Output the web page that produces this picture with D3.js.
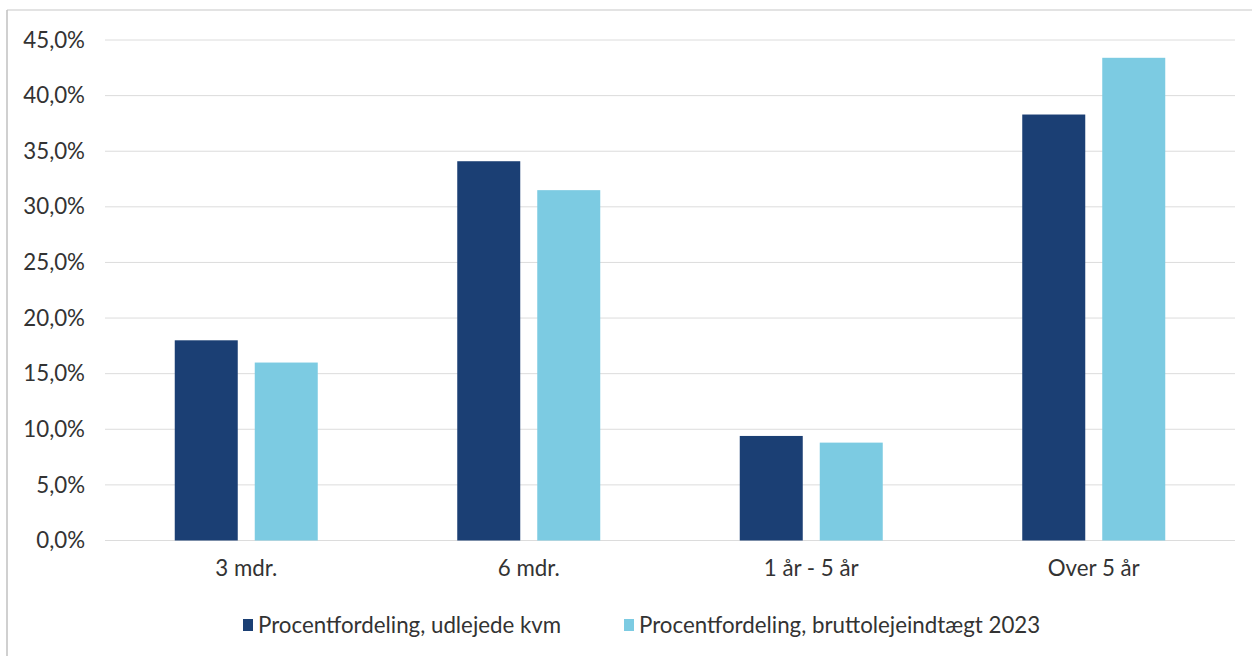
<!DOCTYPE html>
<html>
<head>
<meta charset="utf-8">
<script src="https://cdn.jsdelivr.net/npm/d3@7"></script>
<style>
  html, body { margin: 0; padding: 0; background: #ffffff; }
  svg { display: block; }
</style>
</head>
<body>
<svg id="chart" width="1252" height="656"></svg>
<script>
// Lease-term distribution: share of let floor area vs. share of gross rent
const categories = ["3 mdr.", "6 mdr.", "1 år - 5 år", "Over 5 år"];
const seriesNames = ["Procentfordeling, udlejede kvm", "Procentfordeling, bruttolejeindtægt 2023"];
const areaShare = [18.0, 34.1, 9.4, 38.3];
const rentShare = [16.0, 31.5, 8.8, 43.4];
const yTicks = [0, 5, 10, 15, 20, 25, 30, 35, 40, 45];
const colors = ["#1b3f74", "#7ccbe2"];

const svg = d3.select("#chart");
const font = "Lato, 'Open Sans', sans-serif";
const fontSize = 22.3;
const textColor = "#333333";

// chart frame (top and left edges)
svg.append("line").attr("x1", 7).attr("x2", 1252).attr("y1", 10).attr("y2", 10)
  .attr("stroke", "#c8c8c8").attr("stroke-width", 1.2);
svg.append("line").attr("x1", 7).attr("x2", 7).attr("y1", 10).attr("y2", 656)
  .attr("stroke", "#c0c0c0").attr("stroke-width", 1.5);

const plot = { left: 105, right: 1235, top: 40, bottom: 540.5 };

const x = d3.scaleBand().domain(categories).range([plot.left, plot.right]);
const y = d3.scaleLinear().domain([0, 45]).range([plot.bottom, plot.top]);

// gridlines
svg.append("g").selectAll("line").data(yTicks).join("line")
  .attr("x1", plot.left).attr("x2", plot.right)
  .attr("y1", d => y(d)).attr("y2", d => y(d))
  .attr("stroke", "#dcdcdc").attr("stroke-width", 1);

// y axis labels
const fmt = d => d3.format(".1f")(d).replace(".", ",") + "%";
const yAxis = d3.axisLeft(y).tickValues(yTicks).tickFormat(fmt).tickSize(0).tickPadding(20);
const yg = svg.append("g").attr("transform", `translate(${plot.left},0)`).call(yAxis);
yg.select(".domain").remove();
yg.selectAll("text").attr("font-family", font).attr("font-size", fontSize).attr("fill", textColor);

// x axis labels
const xAxis = d3.axisBottom(x).tickSize(0).tickPadding(20);
const xg = svg.append("g").attr("transform", `translate(0,${plot.bottom})`).call(xAxis);
xg.select(".domain").remove();
xg.selectAll("text").attr("font-family", font).attr("font-size", fontSize).attr("fill", textColor);

// bars
const barW = 63, gap = 17;
const x1 = d3.scaleOrdinal().domain([0, 1]).range([-(barW + gap / 2), gap / 2]);
const series = [areaShare, rentShare];
series.forEach((vals, s) => {
  svg.append("g").selectAll("rect").data(vals).join("rect")
    .attr("x", (d, i) => x(categories[i]) + x.bandwidth() / 2 + x1(s))
    .attr("y", d => y(d))
    .attr("width", barW)
    .attr("height", d => y(0) - y(d))
    .attr("fill", colors[s]);
});

// legend
const legendItems = [{ x: 243, name: seriesNames[0] }, { x: 624, name: seriesNames[1] }];
const lg = svg.append("g");
legendItems.forEach((it, i) => {
  lg.append("rect").attr("x", it.x).attr("y", 619).attr("width", 10).attr("height", 12).attr("fill", colors[i]);
  lg.append("text").attr("x", it.x + 15).attr("y", 633)
    .attr("font-family", font).attr("font-size", fontSize).attr("fill", textColor)
    .text(it.name);
});
</script>
</body>
</html>
